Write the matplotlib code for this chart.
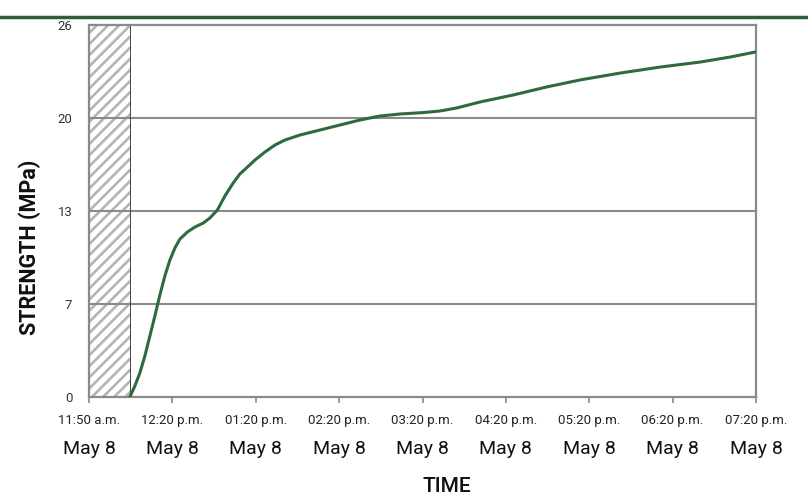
import matplotlib
matplotlib.use("Agg")
import matplotlib.pyplot as plt
from matplotlib.lines import Line2D

plt.rcParams['font.family'] = ['Roboto', 'DejaVu Sans']

# tick labels (the axis is evenly spaced even though the first step is 30 min)
time_labels = ["11:50 a.m.", "12:20 p.m.", "01:20 p.m.", "02:20 p.m.", "03:20 p.m.",
               "04:20 p.m.", "05:20 p.m.", "06:20 p.m.", "07:20 p.m."]
date_labels = ["May 8"] * 9
y_ticks = [0, 6.5, 13, 19.5, 26]
y_tick_labels = ["0", "7", "13", "20", "26"]

# curve (x in tick units from 11:50 a.m.)
t_pos = [0.49, 0.55, 0.61, 0.67, 0.73, 0.79, 0.85, 0.91, 0.97, 1.03, 1.09, 1.18,
         1.27, 1.37, 1.45, 1.54, 1.63, 1.73, 1.81, 1.90, 1.99, 2.11, 2.23, 2.35,
         2.53, 2.77, 3.01, 3.25, 3.49, 3.73, 4.01, 4.21, 4.41, 4.69, 5.09, 5.49,
         5.89, 6.37, 6.85, 7.33, 7.69, 7.99]
strength = [0.0, 0.77, 1.68, 2.87, 4.26, 5.66, 7.13, 8.46, 9.57, 10.41, 11.04, 11.53,
            11.88, 12.16, 12.51, 13.07, 14.05, 14.96, 15.59, 16.07, 16.56, 17.12,
            17.61, 17.96, 18.31, 18.66, 19.01, 19.36, 19.64, 19.78, 19.88, 19.99,
            20.20, 20.62, 21.11, 21.67, 22.16, 22.64, 23.06, 23.41, 23.76, 24.11]
hatch_end = 0.49

grey = "#8a8a8a"

fig = plt.figure(figsize=(8.08, 4.96), dpi=100)
ax = fig.add_axes([89 / 808, 99 / 496, 667 / 808, 372 / 496])

# hatched region before the start
plt.rcParams['hatch.linewidth'] = 1.9
ax.axvspan(0, hatch_end, facecolor="white", edgecolor="#b4b4b4", hatch="///", lw=0, zorder=1)
ax.axvline(hatch_end, color="#444444", lw=0.7, zorder=2)

for yt in y_ticks[1:-1]:
    ax.axhline(yt, color=grey, lw=1.5, zorder=1.5)

ax.plot(t_pos, strength, color="#2f6a3e", lw=2.2, solid_joinstyle="round",
        solid_capstyle="round", zorder=3)

ax.set_xlim(0, 8)
ax.set_ylim(0, 26)
for s in ax.spines.values():
    s.set_color(grey)
    s.set_linewidth(1.6)

ax.set_xticks(range(len(time_labels)))
ax.set_xticklabels([])
ax.tick_params(axis="x", length=4.5, width=1.2, color=grey)
ax.set_yticks(y_ticks)
ax.set_yticklabels(y_tick_labels, fontsize=9.5, color="#333333")
ax.tick_params(axis="y", length=0, pad=12)

for i, (tl, dl) in enumerate(zip(time_labels, date_labels)):
    ax.text(i / 8, -27 / 372, tl, transform=ax.transAxes, ha="center", va="baseline",
            fontsize=9.5, color="#222222")
    ax.text(i / 8, -57 / 372, dl, transform=ax.transAxes, ha="center", va="baseline",
            fontsize=14, color="#111111")

fig.text(447 / 808, 1 - 492 / 496, "TIME", ha="center", va="baseline", fontsize=15,
         fontweight="medium", color="#111111")
fig.text(30 / 808, 1 - 247 / 496, "STRENGTH (MPa)", rotation=90, ha="center",
         va="center", fontsize=15.5, fontweight="bold", color="#111111")

# green rule across the top
fig.add_artist(Line2D([0, 1], [1 - 17 / 496, 1 - 17 / 496], transform=fig.transFigure,
                      color="#2d5e3a", lw=2.5))

fig.savefig("out.png", dpi=100)
